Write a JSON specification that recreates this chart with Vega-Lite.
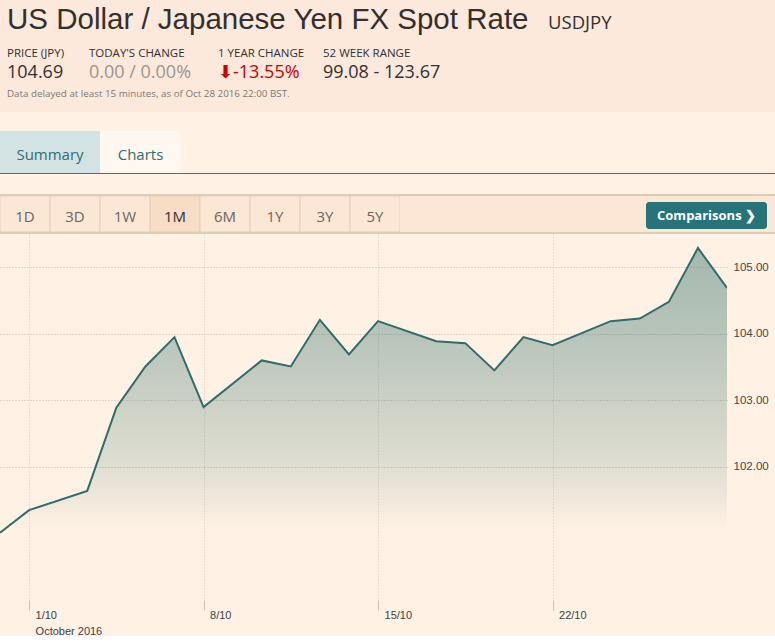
{
  "$schema": "https://vega.github.io/schema/vega-lite/v6.json",
  "background": "#fff1e4",
  "padding": 0,
  "spacing": 0,
  "config": {"view": {"stroke": null}, "concat": {"spacing": 0}, "text": {"font": "Open Sans"}},
  "vconcat": [
    {
      "spacing": 0,
      "hconcat": [
        {"width": 545, "height": 45, "view": {"fill": "#fce9db"},
         "data": {"values": [{"title": "US Dollar / Japanese Yen FX Spot Rate"}]},
         "mark": {"type": "text", "align": "left", "baseline": "alphabetic", "dx": 7, "dy": 6, "font": "Liberation Sans", "fontSize": 29.5, "color": "#33302e"},
         "encoding": {"text": {"field": "title"}, "x": {"field": "title", "type": "nominal", "scale": {"type": "point", "align": 0, "padding": 0}, "axis": null}}},
        {"width": 230, "height": 45, "view": {"fill": "#fce9db"},
         "data": {"values": [{"code": "USDJPY"}]},
         "mark": {"type": "text", "align": "left", "baseline": "alphabetic", "dx": 3, "dy": 6, "fontSize": 18.5, "color": "#33302e"},
         "encoding": {"text": {"field": "code"}, "x": {"field": "code", "type": "nominal", "scale": {"type": "point", "align": 0, "padding": 0}, "axis": null}}}
      ]
    },
    {
      "spacing": 0,
      "hconcat": [
        {"width": 89, "height": 38, "view": {"fill": "#fce9db"},
         "data": {"values": [{"stat": "PRICE (JPY)", "value": "104.69"}]},
         "encoding": {"x": {"field": "stat", "type": "nominal", "scale": {"type": "point", "align": 0, "padding": 0}, "axis": null}},
         "layer": [
           {"mark": {"type": "text", "align": "left", "baseline": "alphabetic", "dx": 7, "dy": -7.3, "fontSize": 11.5, "color": "#33302e"}, "encoding": {"text": {"field": "stat"}}},
           {"mark": {"type": "text", "align": "left", "baseline": "alphabetic", "dx": 7, "dy": 14.3, "fontSize": 18, "color": "#33302e"}, "encoding": {"text": {"field": "value"}}}
         ]},
        {"width": 129, "height": 38, "view": {"fill": "#fce9db"},
         "data": {"values": [{"stat": "TODAY'S CHANGE", "value": "0.00 / 0.00%"}]},
         "encoding": {"x": {"field": "stat", "type": "nominal", "scale": {"type": "point", "align": 0, "padding": 0}, "axis": null}},
         "layer": [
           {"mark": {"type": "text", "align": "left", "baseline": "alphabetic", "dy": -7.3, "fontSize": 11.5, "color": "#33302e"}, "encoding": {"text": {"field": "stat"}}},
           {"mark": {"type": "text", "align": "left", "baseline": "alphabetic", "dy": 14.3, "fontSize": 18, "color": "#9d958f"}, "encoding": {"text": {"field": "value"}}}
         ]},
        {"width": 105, "height": 38, "view": {"fill": "#fce9db"},
         "data": {"values": [{"stat": "1 YEAR CHANGE", "value": "⬇-13.55%"}]},
         "encoding": {"x": {"field": "stat", "type": "nominal", "scale": {"type": "point", "align": 0, "padding": 0}, "axis": null}},
         "layer": [
           {"mark": {"type": "text", "align": "left", "baseline": "alphabetic", "dy": -7.3, "fontSize": 11.5, "color": "#33302e"}, "encoding": {"text": {"field": "stat"}}},
           {"mark": {"type": "text", "align": "left", "baseline": "alphabetic", "dy": 14.3, "fontSize": 18, "color": "#cc0000"}, "encoding": {"text": {"field": "value"}}}
         ]},
        {"width": 452, "height": 38, "view": {"fill": "#fce9db"},
         "data": {"values": [{"stat": "52 WEEK RANGE", "value": "99.08 - 123.67"}]},
         "encoding": {"x": {"field": "stat", "type": "nominal", "scale": {"type": "point", "align": 0, "padding": 0}, "axis": null}},
         "layer": [
           {"mark": {"type": "text", "align": "left", "baseline": "alphabetic", "dy": -7.3, "fontSize": 11.5, "color": "#33302e"}, "encoding": {"text": {"field": "stat"}}},
           {"mark": {"type": "text", "align": "left", "baseline": "alphabetic", "dy": 14.3, "fontSize": 18, "color": "#33302e"}, "encoding": {"text": {"field": "value"}}}
         ]}
      ]
    },
    {"width": 775, "height": 29, "view": {"fill": "#fce9db"},
     "data": {"values": [{"note": "Data delayed at least 15 minutes, as of Oct 28 2016 22:00 BST."}]},
     "mark": {"type": "text", "align": "left", "baseline": "alphabetic", "dx": 7, "dy": -0.5, "fontSize": 9.8, "color": "#7e7872"},
     "encoding": {"text": {"field": "note"}, "x": {"field": "note", "type": "nominal", "scale": {"type": "point", "align": 0, "padding": 0}, "axis": null}}},
    {"width": 775, "height": 19, "data": {"values": []}, "mark": {"type": "text"}},
    {
      "spacing": 0,
      "hconcat": [
        {"width": 100, "height": 42, "view": {"fill": "#d3e3e4"},
         "data": {"values": [{"tab": "Summary"}]},
         "mark": {"type": "text", "baseline": "middle", "dy": 3, "fontSize": 15, "color": "#2e6e73"},
         "encoding": {"text": {"field": "tab"}}},
        {"width": 81, "height": 42, "view": {"fill": "#fff8f1", "cornerRadius": 3},
         "data": {"values": [{"tab": "Charts"}]},
         "mark": {"type": "text", "baseline": "middle", "dy": 3, "fontSize": 15, "color": "#2e6e73"},
         "encoding": {"text": {"field": "tab"}}},
        {"width": 594, "height": 42, "data": {"values": []}, "mark": {"type": "text"}}
      ]
    },
    {"width": 775, "height": 1, "view": {"fill": "#3a7a70"}, "data": {"values": []}, "mark": {"type": "text"}},
    {"width": 775, "height": 20, "data": {"values": []}, "mark": {"type": "text"}},
    {"width": 775, "height": 2, "view": {"fill": "#e0cbb7"}, "data": {"values": []}, "mark": {"type": "text"}},
    {
      "spacing": 0,
      "hconcat": [
        {"width": 400, "height": 36, "view": {"fill": "#fce7d4"},
         "data": {"values": [{"range": "1D"}, {"range": "3D"}, {"range": "1W"}, {"range": "1M"}, {"range": "6M"}, {"range": "1Y"}, {"range": "3Y"}, {"range": "5Y"}]},
         "encoding": {"x": {"field": "range", "type": "nominal", "sort": null, "scale": {"type": "band", "paddingInner": 0, "paddingOuter": 0}, "axis": null}},
         "layer": [
           {"mark": {"type": "rect", "stroke": "#e3cfbc", "strokeWidth": 1, "clip": true},
            "encoding": {"color": {"condition": {"test": "datum.range == '1M'", "value": "#f7dcc6"}, "value": "#fce7d4"}}},
           {"mark": {"type": "text", "baseline": "alphabetic", "dy": 8, "fontSize": 15},
            "encoding": {"text": {"field": "range"}, "color": {"condition": {"test": "datum.range == '1M'", "value": "#33302e"}, "value": "#6b6561"}}}
         ]},
        {"width": 246, "height": 36, "view": {"fill": "#fce7d4"}, "data": {"values": []}, "mark": {"type": "text"}},
        {
          "spacing": 0,
          "vconcat": [
            {"width": 121, "height": 6, "view": {"fill": "#fce7d4"}, "data": {"values": []}, "mark": {"type": "text"}},
            {"width": 121, "height": 27, "view": {"fill": "#26737a", "cornerRadius": 3},
             "data": {"values": [{"button": "Comparisons  ❯"}]},
             "mark": {"type": "text", "baseline": "alphabetic", "dy": 4.5, "fontSize": 13, "fontWeight": "bold", "color": "#ffffff"},
             "encoding": {"text": {"field": "button"}}},
            {"width": 121, "height": 3, "view": {"fill": "#fce7d4"}, "data": {"values": []}, "mark": {"type": "text"}}
          ]
        },
        {"width": 8, "height": 36, "view": {"fill": "#fce7d4"}, "data": {"values": []}, "mark": {"type": "text"}}
      ]
    },
    {"width": 775, "height": 2, "view": {"fill": "#e0cbb7"}, "data": {"values": []}, "mark": {"type": "text"}},
    {
      "width": 727, "height": 366,
      "data": {"values": [
        {"date": "2016-09-29", "rate": 101.01},
        {"date": "2016-09-30", "rate": 101.35},
        {"date": "2016-10-03", "rate": 101.64},
        {"date": "2016-10-04", "rate": 102.89},
        {"date": "2016-10-05", "rate": 103.51},
        {"date": "2016-10-06", "rate": 103.95},
        {"date": "2016-10-07", "rate": 102.90},
        {"date": "2016-10-10", "rate": 103.60},
        {"date": "2016-10-11", "rate": 103.51},
        {"date": "2016-10-12", "rate": 104.21},
        {"date": "2016-10-13", "rate": 103.69},
        {"date": "2016-10-14", "rate": 104.19},
        {"date": "2016-10-17", "rate": 103.89},
        {"date": "2016-10-18", "rate": 103.86},
        {"date": "2016-10-19", "rate": 103.45},
        {"date": "2016-10-20", "rate": 103.95},
        {"date": "2016-10-21", "rate": 103.83},
        {"date": "2016-10-24", "rate": 104.19},
        {"date": "2016-10-25", "rate": 104.23},
        {"date": "2016-10-26", "rate": 104.48},
        {"date": "2016-10-27", "rate": 105.29},
        {"date": "2016-10-28", "rate": 104.69}
      ]},
      "encoding": {
        "x": {"field": "date", "type": "ordinal",
              "scale": {"type": "point", "padding": 0, "domain": ["2016-09-29","2016-09-30","2016-10-01","2016-10-03","2016-10-04","2016-10-05","2016-10-06","2016-10-07","2016-10-08","2016-10-10","2016-10-11","2016-10-12","2016-10-13","2016-10-14","2016-10-15","2016-10-17","2016-10-18","2016-10-19","2016-10-20","2016-10-21","2016-10-22","2016-10-24","2016-10-25","2016-10-26","2016-10-27","2016-10-28"]},
              "axis": {"values": ["2016-09-30","2016-10-07","2016-10-14","2016-10-21"],
                       "labelExpr": "datum.value == '2016-09-30' ? ['1/10', 'October 2016'] : datum.value == '2016-10-07' ? '8/10' : datum.value == '2016-10-14' ? '15/10' : '22/10'",
                       "title": null, "domain": false, "grid": true, "gridColor": "#d4c9be", "gridDash": [1, 2],
                       "tickSize": 10, "tickColor": "#cdc2b7", "labelAngle": 0, "labelAlign": "left", "labelBaseline": "top",
                       "labelOffset": 6, "labelPadding": -1, "labelOverlap": false, "labelFont": "Liberation Sans", "labelFontSize": 11,
                       "labelColor": "#45403d", "labelLineHeight": 16}},
        "y": {"field": "rate", "type": "quantitative",
              "scale": {"domain": [100, 105.5], "zero": false, "nice": false},
              "axis": {"orient": "right", "values": [102, 103, 104, 105], "format": ".2f", "title": null, "domain": false,
                       "ticks": false, "labelPadding": 6, "grid": true, "gridColor": "#c5b9ad", "gridDash": [1, 2],
                       "labelFont": "Liberation Sans", "labelFontSize": 11.5, "labelColor": "#4a4542"}}
      },
      "layer": [
        {"mark": {"type": "area", "line": false, "clip": true,
                  "fill": {"gradient": "linear", "x1": 0, "y1": 0, "x2": 0, "y2": 1,
                           "stops": [
                             {"offset": 0, "color": "rgba(47,110,106,0.44)"},
                             {"offset": 0.25, "color": "rgba(47,110,106,0.34)"},
                             {"offset": 0.43, "color": "rgba(47,110,106,0.25)"},
                             {"offset": 0.62, "color": "rgba(47,110,106,0.15)"},
                             {"offset": 0.8, "color": "rgba(47,110,106,0)"},
                             {"offset": 1, "color": "rgba(47,110,106,0)"}
                           ]}},
         "encoding": {"y2": {"datum": 100}}},
        {"mark": {"type": "line", "color": "#2f6d6b", "strokeWidth": 2, "clip": true}}
      ]
    }
  ]
}
